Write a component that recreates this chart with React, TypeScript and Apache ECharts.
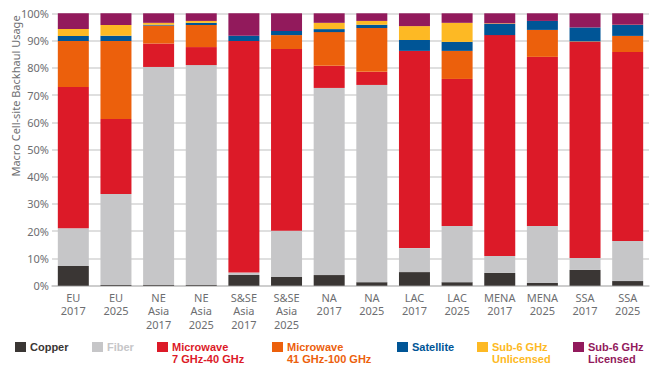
import React, { useEffect, useRef } from "react";
import * as echarts from "echarts";

const categories = [
  "EU\n2017", "EU\n2025", "NE\nAsia\n2017", "NE\nAsia\n2025", "S&SE\nAsia\n2017", "S&SE\nAsia\n2025",
  "NA\n2017", "NA\n2025", "LAC\n2017", "LAC\n2025", "MENA\n2017", "MENA\n2025", "SSA\n2017", "SSA\n2025",
];

const copper = [7.2, 0.3, 0.3, 0.3, 3.9, 3.2, 3.9, 1.3, 5.0, 1.3, 4.7, 1.0, 5.8, 1.7];
const fiber = [13.9, 33.4, 80.0, 80.7, 0.9, 17.0, 68.7, 72.4, 8.8, 20.6, 6.2, 20.9, 4.4, 14.7];
const microwave7to40 = [51.8, 27.5, 8.6, 6.6, 85.0, 66.7, 8.1, 4.8, 72.4, 54.0, 81.1, 62.1, 79.3, 69.4];
const microwave41to100 = [16.9, 28.6, 6.6, 8.1, 0, 5.1, 12.4, 16.1, 0, 10.3, 0, 9.9, 0.2, 5.9];
const satellite = [1.9, 2.0, 0.3, 0.8, 2.0, 1.5, 1.1, 1.2, 4.0, 3.3, 4.1, 3.3, 5.1, 4.0];
const sub6Unlicensed = [2.5, 3.9, 0.7, 0.7, 0, 0, 2.3, 1.4, 5.1, 7.0, 0.2, 0, 0, 0.1];
const sub6Licensed = [5.8, 4.3, 3.5, 2.8, 8.2, 6.5, 3.5, 2.8, 4.7, 3.5, 3.7, 2.8, 5.4, 4.3];

const yTicks = [0, 10, 20, 30, 40, 50, 60, 70, 80, 90, 100];

const seriesDefs = [
  { name: "Copper", lines: ["Copper"], data: copper, color: "#3a3634", lx: 15 },
  { name: "Fiber", lines: ["Fiber"], data: fiber, color: "#c6c6c8", lx: 92 },
  { name: "Microwave 7 GHz-40 GHz", lines: ["Microwave", "7 GHz-40 GHz"], data: microwave7to40, color: "#dc1a28", lx: 157 },
  { name: "Microwave 41 GHz-100 GHz", lines: ["Microwave", "41 GHz-100 GHz"], data: microwave41to100, color: "#ec600c", lx: 272 },
  { name: "Satellite", lines: ["Satellite"], data: satellite, color: "#005596", lx: 397 },
  { name: "Sub-6 GHz Unlicensed", lines: ["Sub-6 GHz", "Unlicensed"], data: sub6Unlicensed, color: "#fdb924", lx: 477 },
  { name: "Sub-6 GHz Licensed", lines: ["Sub-6 GHz", "Licensed"], data: sub6Licensed, color: "#921a5c", lx: 573 },
];

const FONT = "'Noto Sans', sans-serif";
const LEGEND_FONT = "'Liberation Sans', Arial, sans-serif";

export default function App() {
  const ref = useRef<HTMLDivElement>(null);
  useEffect(() => {
    if (!ref.current) return;
    const chart = echarts.init(ref.current, undefined, { renderer: "svg" });
    const legendGraphics: any[] = [];
    seriesDefs.forEach((s) => {
      legendGraphics.push({
        type: "rect",
        x: s.lx,
        y: 342,
        shape: { x: 0, y: 0, width: 11, height: 10 },
        style: { fill: s.color },
      });
      s.lines.forEach((line, i) => {
        legendGraphics.push({
          type: "text",
          x: s.lx + 15,
          y: 346.7 + i * 12.6,
          style: {
            text: line,
            fill: s.color,
            font: `bold 11px ${LEGEND_FONT}`,
            verticalAlign: "middle",
            align: "left",
          },
        });
      });
    });
    chart.setOption({
      animation: false,
      textStyle: { fontFamily: FONT },
      grid: { left: 52, right: 3, top: 13.3, bottom: 83.3, containLabel: false },
      xAxis: {
        type: "category",
        data: categories,
        axisTick: { show: false },
        axisLine: { show: true, lineStyle: { color: "#c8c8c8", width: 1.5 } },
        axisLabel: {
          color: "#6d6e71",
          fontSize: 11,
          lineHeight: 13.5,
          margin: 5,
          interval: 0,
          fontFamily: FONT,
        },
      },
      yAxis: {
        type: "value",
        min: 0,
        max: 100,
        interval: 10,
        axisLine: { show: false },
        axisTick: { show: false },
        splitLine: { lineStyle: { color: "#d4d4d4", width: 1.5 } },
        axisLabel: {
          color: "#6d6e71",
          fontSize: 11,
          margin: 3,
          fontFamily: FONT,
          formatter: (v: number) => (yTicks.includes(v) ? `${v}%` : ""),
        },
      },
      series: seriesDefs.map((s) => ({
        name: s.name,
        type: "bar",
        stack: "total",
        barWidth: 31,
        data: s.data,
        itemStyle: { color: s.color },
      })),
      graphic: [
        {
          type: "text",
          x: 15,
          y: 96,
          rotation: Math.PI / 2,
          style: {
            text: "Macro Cell-site Backhaul Usage",
            fill: "#6d6e71",
            font: `11px ${FONT}`,
            align: "center",
            verticalAlign: "middle",
          },
        },
        ...legendGraphics,
      ],
    });
    return () => chart.dispose();
  }, []);
  return <div ref={ref} style={{ width: 652, height: 369, position: "absolute", left: 0, top: 0 }} />;
}
